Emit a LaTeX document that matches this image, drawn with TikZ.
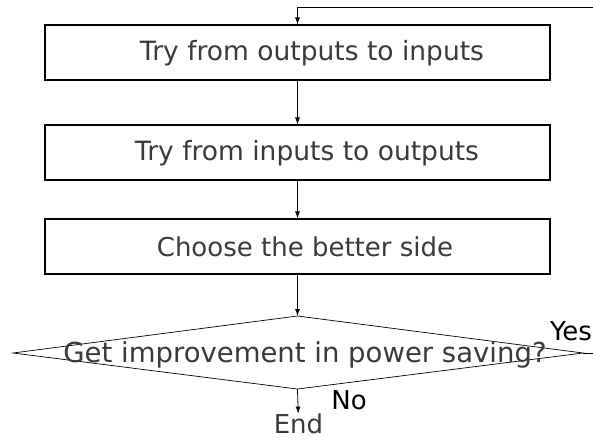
\documentclass[tikz,border=0pt]{standalone}
\usepackage{fontspec}
\setmainfont{DejaVu Sans}
\usetikzlibrary{arrows.meta}
\definecolor{txt}{HTML}{3A3A3A}
\begin{document}
\begin{tikzpicture}[x=1pt,y=-1pt,
  line width=0.8pt,
  stepbox/.style={draw, line width=1.1pt, minimum width=505pt, minimum height=55pt, inner sep=0pt},
  lbl/.style={text=txt, font=\fontsize{26}{30}\selectfont, inner sep=0pt},
  branch/.style={lbl, text=black},
  flow/.style={-{Latex[length=7pt,width=5pt]}}]
\useasboundingbox (0,0) rectangle (593,440);
\fill[white] (0,0) rectangle (593,440);

% process steps
\node[stepbox] (b1) at (297.5,52.5) {};
\node[stepbox] (b2) at (297.5,152.5) {};
\node[stepbox] (b3) at (297.5,246.5) {};
\node[lbl, font=\fontsize{26.5}{30}\selectfont] (t1) at (312,53) {Try from outputs to inputs};
\node[lbl, font=\fontsize{26.5}{30}\selectfont] (t2) at (307,153) {Try from inputs to outputs};
\node[lbl] (t3) at (305,247) {Choose the better side};

% decision diamond
\coordinate (dT) at (297.5,316);
\coordinate (dB) at (297.5,389);
\coordinate (dL) at (13,353);
\coordinate (dR) at (583,353);
\draw[line width=0.7pt] (dT) -- (dR) -- (dB) -- (dL) -- cycle;
\node[lbl, font=\fontsize{27.5}{31}\selectfont] (q) at (305,355) {Get improvement in power saving?};
\node[lbl] (end) at (298.5,424) {End};
\node[branch] (yes) at (571,331) {Yes};
\node[branch] (no) at (349,400) {No};

% loop-back ends leaving the page
\coordinate (outR) at (593,353);
\coordinate (inR) at (593,7);
\coordinate (inC) at (297.5,7);

\draw[flow] (b1) -- (b2);
\draw[flow] (b2) -- (b3);
\draw[flow] (b3) -- (dT);
\draw[flow] (dB) -- (end);
\draw (dR) -- (outR);
\draw[flow] (inR) -- (inC) -- (b1);
\end{tikzpicture}
\end{document}
